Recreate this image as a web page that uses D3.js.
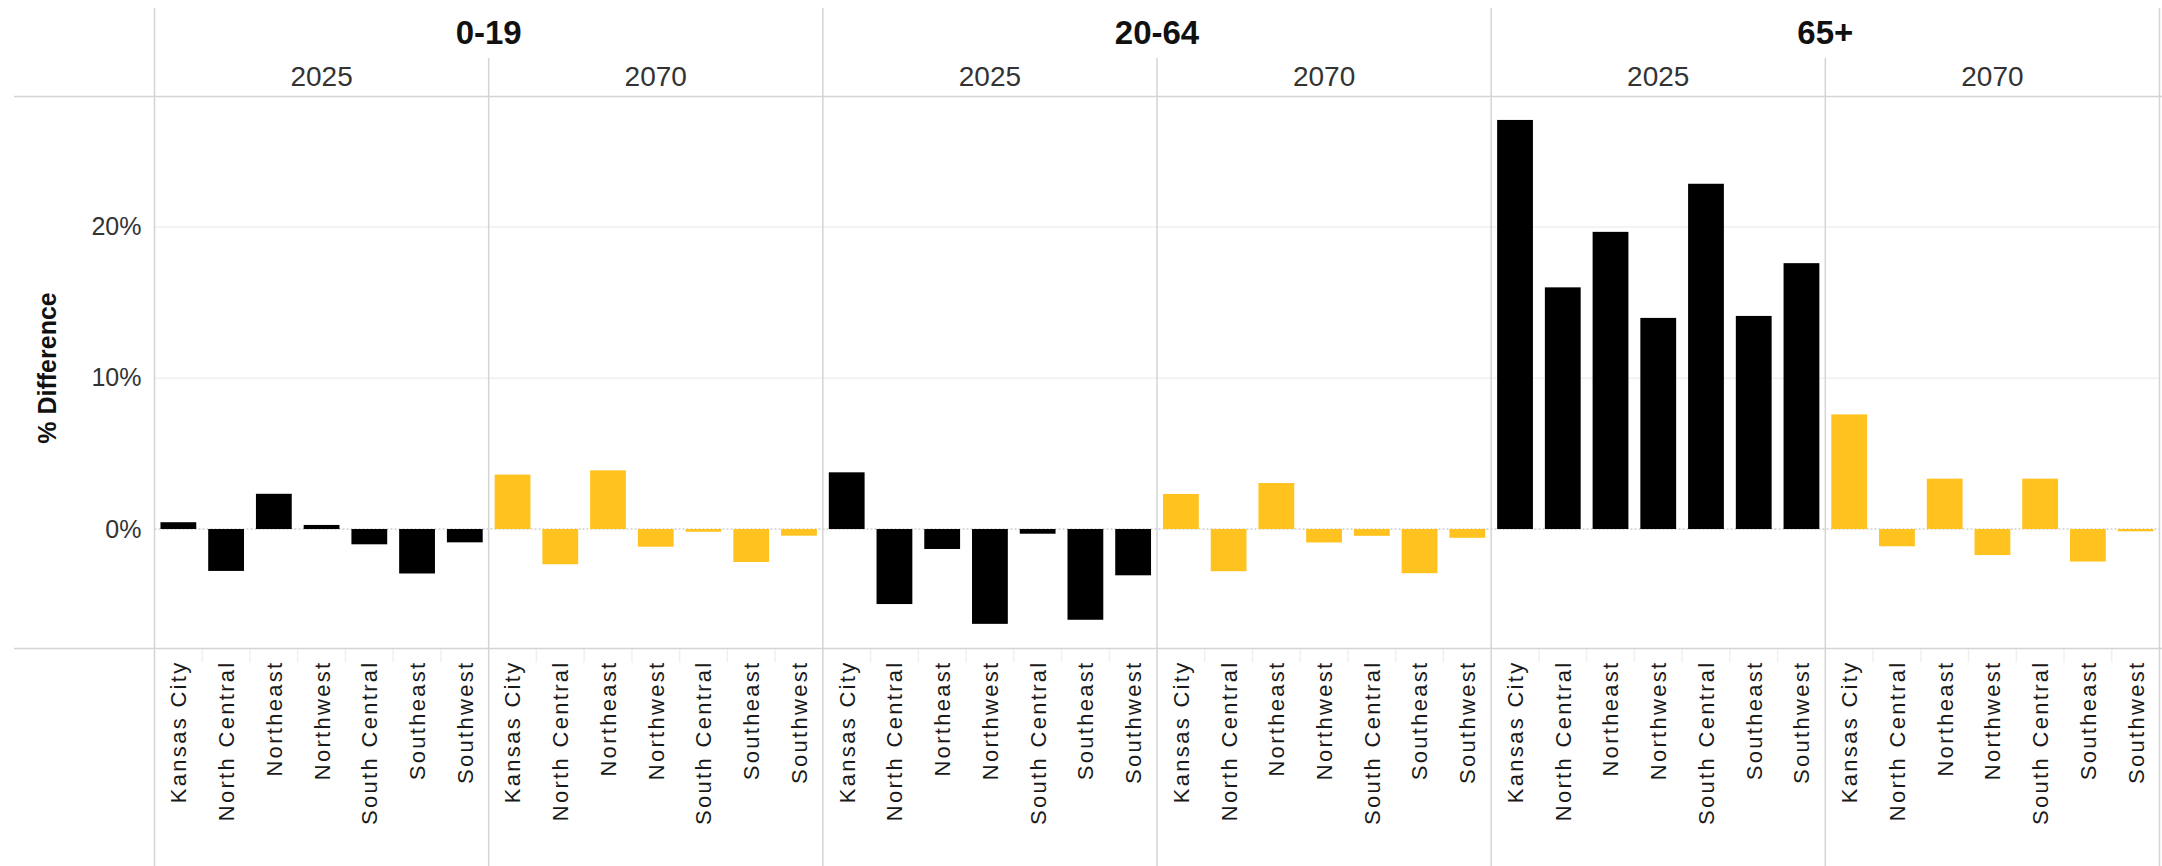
<!DOCTYPE html>
<html>
<head>
<meta charset="utf-8">
<script src="https://cdn.jsdelivr.net/npm/d3@7"></script>
<style>
  body { margin: 0; background: #fff; }
  svg { display: block; font-family: "Liberation Sans", Arial, sans-serif; }
</style>
</head>
<body>
<div id="chart"></div>
<script>
// categories
const ageGroups = ['0-19', '20-64', '65+'];
const years = ['2025', '2070'];
const regions = ['Kansas City', 'North Central', 'Northeast', 'Northwest', 'South Central', 'Southeast', 'Southwest'];

// % difference per region
const age0to19_2025 = [0.45, -2.77, 2.33, 0.27, -1.01, -2.94, -0.88];
const age0to19_2070 = [3.60, -2.33, 3.88, -1.17, -0.18, -2.18, -0.44];
const age20to64_2025 = [3.75, -4.96, -1.32, -6.27, -0.31, -6.00, -3.06];
const age20to64_2070 = [2.32, -2.79, 3.04, -0.89, -0.45, -2.92, -0.58];
const age65plus_2025 = [27.05, 15.98, 19.65, 13.96, 22.83, 14.09, 17.58];
const age65plus_2070 = [7.58, -1.14, 3.33, -1.72, 3.33, -2.15, -0.15];

const yTicks = [0, 10, 20];

const seriesByGroup = {
    '0-19': [age0to19_2025, age0to19_2070],
    '20-64': [age20to64_2025, age20to64_2070],
    '65+': [age65plus_2025, age65plus_2070]
};

const width = 2162;
const height = 866;
const left = 154.5;
const right = 2159.5;
const plotTop = 96.5;
const plotBottom = 648.5;
const lineColour = '#d4d4d4';
const yearColour = {'2025': '#000000', '2070': '#ffc21e'};

// build the list of panels (group x year)
let panels = [];
ageGroups.forEach(function(g){
    years.forEach(function(yr, j){
        panels.push({group: g, year: yr, key: g + '|' + yr, values: seriesByGroup[g][j]});
    });
});

const panelScale = d3.scaleBand()
    .domain(panels.map((p) => p.key))
    .range([left, right]);
const panelWidth = panelScale.bandwidth();

const groupScale = d3.scaleBand()
    .domain(ageGroups)
    .range([left, right]);

const xScale = d3.scaleBand()
    .domain(regions)
    .range([0, panelWidth])
    .paddingInner(0.25)
    .paddingOuter(0.125);

const yScale = d3.scaleLinear()
    .domain([-7.9, 28.6])
    .range([plotBottom, plotTop]);

let svg = d3.select('#chart')
    .append('svg')
        .attr('width', width)
        .attr('height', height);

// gridlines
svg.append('g')
    .attr('transform', `translate(${left}, 0)`)
    .call(d3.axisLeft(yScale).tickValues(yTicks.filter((t) => t !== 0)).tickSize(-(right - left)).tickFormat(''))
    .call((g) => g.select('.domain').remove())
    .selectAll('line')
        .attr('stroke', '#efefef')
        .attr('stroke-width', 1.5);

// zero line (dotted)
svg.append('line')
    .attr('x1', left)
    .attr('x2', right)
    .attr('y1', yScale(0))
    .attr('y2', yScale(0))
    .attr('stroke', '#cfcfcf')
    .attr('stroke-width', 1.5)
    .attr('stroke-dasharray', '2,2');

// y tick labels
let yAxis = svg.append('g')
    .attr('transform', `translate(${left - 13}, 0)`)
    .call(d3.axisLeft(yScale).tickValues(yTicks).tickSize(0).tickFormat((d) => d + '%'));
yAxis.select('.domain').remove();
yAxis.selectAll('text')
    .attr('x', 0)
    .attr('font-size', '25px')
    .attr('fill', '#333')
    .attr('font-family', '"Liberation Sans", Arial, sans-serif');

// y axis title
svg.append('text')
    .attr('transform', `translate(47, 368) rotate(-90)`)
    .attr('text-anchor', 'middle')
    .attr('dy', '0.35em')
    .attr('font-size', '25px')
    .attr('font-weight', 'bold')
    .attr('fill', '#111')
    .text('% Difference');

// bars
panels.forEach(function(p){
    let g = svg.append('g')
        .attr('transform', `translate(${panelScale(p.key)}, 0)`);
    g.selectAll('rect')
        .data(p.values)
        .enter()
        .append('rect')
            .attr('x', (d, i) => xScale(regions[i]))
            .attr('width', xScale.bandwidth())
            .attr('y', (d) => yScale(Math.max(0, d)))
            .attr('height', (d) => Math.abs(yScale(d) - yScale(0)))
            .attr('fill', yearColour[p.year]);

    // x labels
    let xAxis = g.append('g')
        .attr('transform', `translate(0, ${plotBottom})`)
        .call(d3.axisBottom(xScale).tickSize(0));
    xAxis.select('.domain').remove();
    xAxis.selectAll('text')
        .attr('transform', 'rotate(-90)')
        .attr('x', -12)
        .attr('y', 0)
        .attr('dy', '0.36em')
        .attr('text-anchor', 'end')
        .attr('font-size', '22px')
        .attr('letter-spacing', '2.3px')
        .attr('fill', '#1a1a1a')
        .attr('font-family', '"Liberation Sans", Arial, sans-serif');

    // faint separators in the label area
    g.selectAll('.sep')
        .data(regions.slice(1))
        .enter()
        .append('line')
            .attr('x1', (d) => xScale(d) - xScale.step() * 0.125)
            .attr('x2', (d) => xScale(d) - xScale.step() * 0.125)
            .attr('y1', plotBottom)
            .attr('y2', plotBottom + 14)
            .attr('stroke', '#f0f0f0')
            .attr('stroke-width', 1.5);

    // year header
    svg.append('text')
        .attr('x', panelScale(p.key) + panelWidth / 2)
        .attr('y', 86)
        .attr('text-anchor', 'middle')
        .attr('font-size', '28px')
        .attr('fill', '#333')
        .text(p.year);
});

// age group headers
svg.selectAll('.group')
    .data(ageGroups)
    .enter()
    .append('text')
        .attr('x', (d) => groupScale(d) + groupScale.bandwidth() / 2)
        .attr('y', 44)
        .attr('text-anchor', 'middle')
        .attr('font-size', '33px')
        .attr('font-weight', 'bold')
        .attr('fill', '#111')
        .text((d) => d);

// frame lines: year dividers start below the group header
panels.forEach(function(p, i){
    if (i % 2 === 1){
        svg.append('line')
            .attr('x1', panelScale(p.key))
            .attr('x2', panelScale(p.key))
            .attr('y1', 58)
            .attr('y2', height)
            .attr('stroke', lineColour)
            .attr('stroke-width', 1.5);
    }
});
// group dividers run from the top
ageGroups.concat(['end']).forEach(function(g){
    let x = g === 'end' ? right : groupScale(g);
    svg.append('line')
        .attr('x1', x)
        .attr('x2', x)
        .attr('y1', 8)
        .attr('y2', height)
        .attr('stroke', lineColour)
        .attr('stroke-width', 1.5);
});
// horizontal rules
[plotTop, plotBottom].forEach(function(y){
    svg.append('line')
        .attr('x1', 14)
        .attr('x2', width)
        .attr('y1', y)
        .attr('y2', y)
        .attr('stroke', lineColour)
        .attr('stroke-width', 1.5);
});
</script>
</body>
</html>
